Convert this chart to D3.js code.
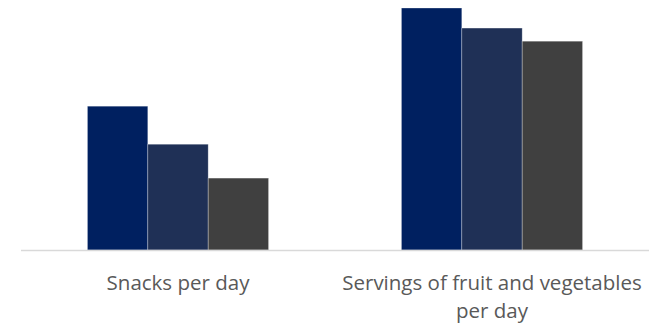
<!DOCTYPE html>
<html>
<head>
<meta charset="utf-8">
<script src="https://cdn.jsdelivr.net/npm/d3@7"></script>
<style>
  body { margin: 0; background: #fff; }
  svg { display: block; }
</style>
</head>
<body>
<svg id="chart"></svg>
<script>
const categories = ['Snacks per day', 'Servings of fruit and vegetables per day'];
const labelLines = [['Snacks per day'], ['Servings of fruit and vegetables', 'per day']];
const seriesNames = ['Series 1', 'Series 2', 'Series 3'];
const series1 = [2.08, 3.50];
const series2 = [1.53, 3.21];
const series3 = [1.04, 3.02];
const colors = ['#002060', '#1f3056', '#404040'];

const width = 659, height = 323;
const margin = { top: 8, right: 10, bottom: 73, left: 21 };

const svg = d3.select('#chart').attr('width', width).attr('height', height);

const x = d3.scaleBand()
  .domain(categories)
  .range([margin.left, width - margin.right])
  .paddingInner(0)
  .paddingOuter(0);

const xs = d3.scaleBand()
  .domain(seriesNames)
  .range([0, x.bandwidth()])
  .paddingOuter(1.1)
  .paddingInner(0);

const y = d3.scaleLinear()
  .domain([0, 3.5])
  .range([height - margin.bottom, margin.top]);

const rows = categories.map((c, i) => ({
  cat: c,
  vals: [series1[i], series2[i], series3[i]]
}));

const groups = svg.selectAll('.grp')
  .data(rows)
  .enter().append('g')
  .attr('class', 'grp')
  .attr('transform', d => `translate(${x(d.cat)},0)`);

groups.selectAll('rect')
  .data(d => d.vals.map((v, j) => ({ name: seriesNames[j], v, j })))
  .enter().append('rect')
  .attr('x', d => xs(d.name))
  .attr('y', d => y(d.v))
  .attr('width', xs.bandwidth())
  .attr('height', d => y(0) - y(d.v))
  .attr('fill', d => colors[d.j])
  .attr('stroke', '#ffffff')
  .attr('stroke-opacity', 0.4)
  .attr('stroke-width', 0.75);

// baseline
svg.append('line')
  .attr('x1', margin.left)
  .attr('x2', width - margin.right)
  .attr('y1', y(0) + 0.5)
  .attr('y2', y(0) + 0.5)
  .attr('stroke', '#d9d9d9')
  .attr('stroke-width', 1.5);

// category labels
const lab = svg.selectAll('.lab')
  .data(categories)
  .enter().append('text')
  .attr('class', 'lab')
  .attr('text-anchor', 'middle')
  .attr('font-family', '"Open Sans", sans-serif')
  .attr('font-size', 20.5)
  .attr('fill', '#595959')
  .attr('x', d => x(d) + x.bandwidth() / 2)
  .attr('y', 290);

lab.selectAll('tspan')
  .data((d, i) => labelLines[i])
  .enter().append('tspan')
  .attr('x', function () { return d3.select(this.parentNode).attr('x'); })
  .attr('dy', (d, i) => i === 0 ? 0 : 28)
  .text(d => d);
</script>
</body>
</html>
